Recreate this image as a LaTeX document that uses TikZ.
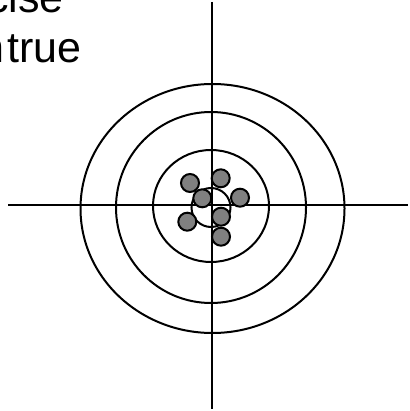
\documentclass[tikz,border=0pt]{standalone}
\usepackage{fontspec}
\setmainfont{Liberation Sans}
\usepackage{tikz}
\tikzset{
  axis/.style ={line width=2.2pt},
  ring/.style ={line width=2pt},
  shot/.style ={circle,draw,line width=2pt,fill=black!50,minimum size=18pt,inner sep=0pt},
  label/.style={font=\fontsize{43}{51}\selectfont,inner sep=0pt},
}
\begin{document}
\begin{tikzpicture}[x=1pt,y=-1pt]
  \useasboundingbox (0,0) rectangle (409,411);
  \clip (0,0) rectangle (409,411);
  \node[label,anchor=base east](line1) at (63.7,12.3){precise};
  \node[label,anchor=base east](line2) at (81.7,63){un\kern2.5pt true};
  % target rings
  \draw[ring] (212.5,208.5) ellipse [x radius=132,y radius=124.5];
  \draw[ring] (211,207.5) ellipse [x radius=95,y radius=95.5];
  \draw[ring] (211,206) ellipse [x radius=58,y radius=56];
  \draw[ring] (211,207.5) circle [radius=19.5];
  % cross hairs
  \coordinate (west) at (8,205);  \coordinate (east) at (408,205);
  \coordinate (north) at (212,2); \coordinate (south) at (212,409);
  \draw[axis](west)--(east); \draw[axis](north)--(south);
  % hits
  \foreach \x/\y [count=\i] in {190/183,220.7/178.3,202.3/198.3,240/197.7,187.3/221.7,221/216.7,221/236.7}
    \node[shot](hit\i) at (\x,\y){};
\end{tikzpicture}
\end{document}
